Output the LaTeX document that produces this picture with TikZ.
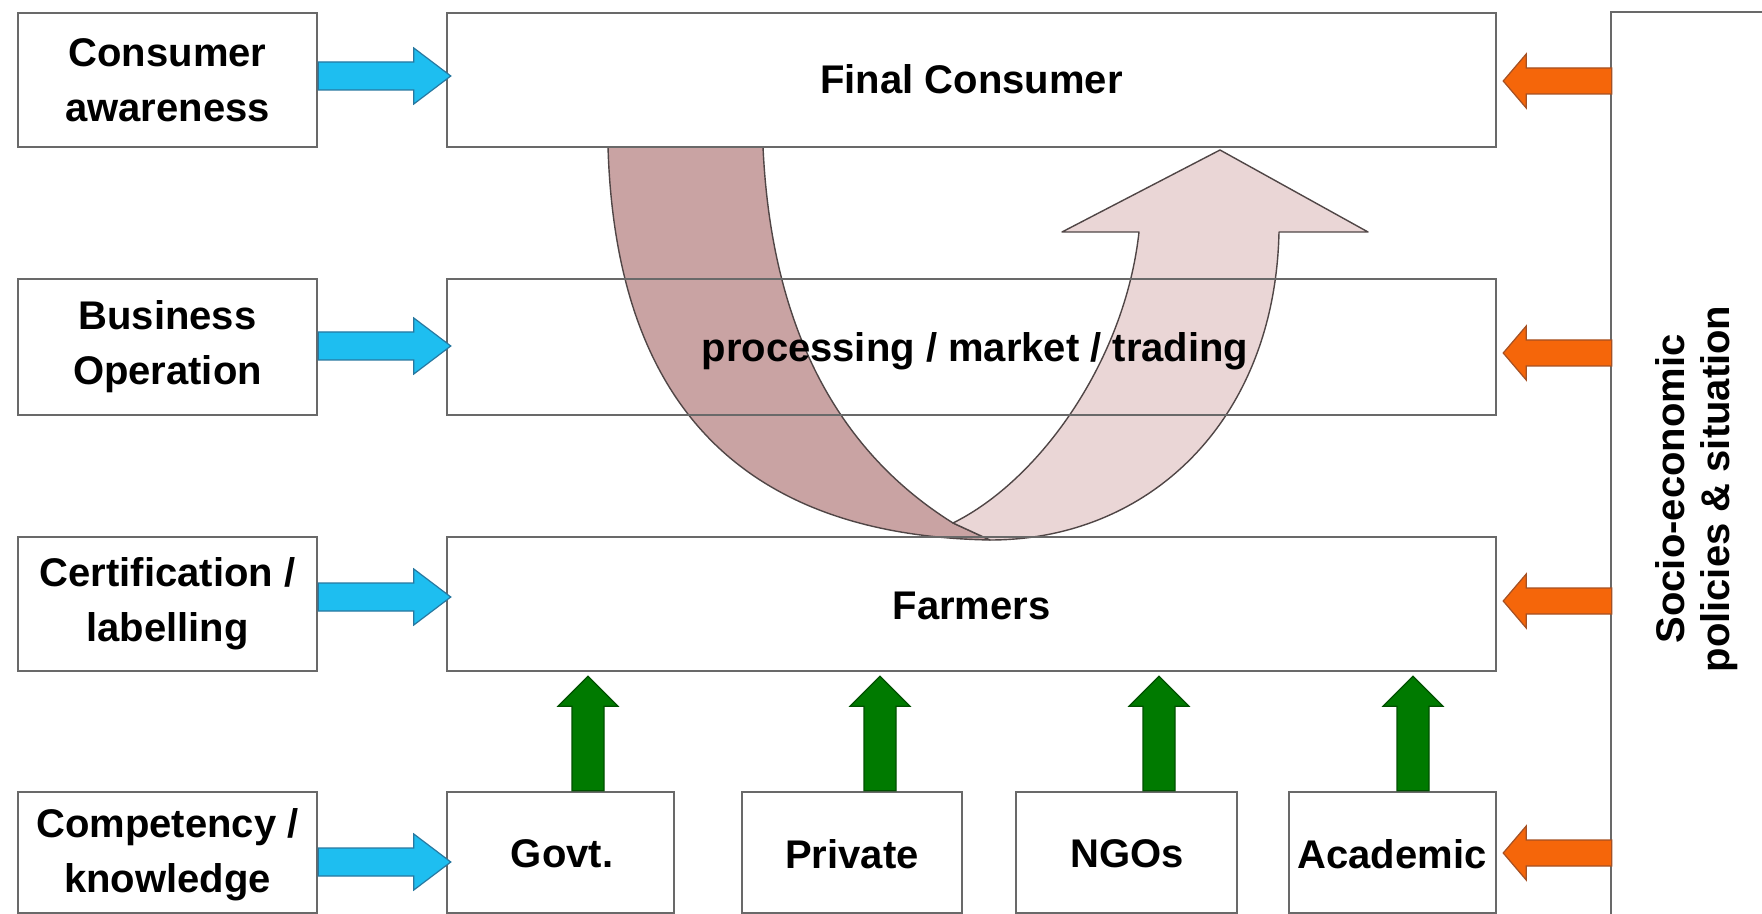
\documentclass[tikz,border=0pt]{standalone}
\usepackage{fontspec}
\setmainfont{Liberation Sans}
\usetikzlibrary{calc}

\definecolor{boxline}{RGB}{105,105,105}
\definecolor{cyanfill}{RGB}{30,190,240}
\definecolor{cyanline}{RGB}{40,120,160}
\definecolor{orangefill}{RGB}{245,102,10}
\definecolor{orangeline}{RGB}{165,80,35}
\definecolor{greenfill}{RGB}{0,122,0}
\definecolor{greenline}{RGB}{0,80,0}
\definecolor{darkband}{RGB}{201,163,163}
\definecolor{lightband}{RGB}{234,214,214}
\definecolor{bandline}{RGB}{80,70,70}

\tikzset{
  box/.style={draw=boxline, line width=1.2pt, inner sep=0pt},
  label/.style={font=\bfseries\fontsize{20}{27.5}\selectfont, align=center, inner sep=0pt},
  sidelabel/.style={font=\bfseries\fontsize{20}{22.5}\selectfont, align=center, inner sep=0pt},
  inarrow/.style={fill=cyanfill, draw=cyanline, line width=0.6pt, line join=miter},
  policyarrow/.style={fill=orangefill, draw=orangeline, line width=0.6pt, line join=miter},
  supportarrow/.style={fill=greenfill, draw=greenline, line width=0.6pt, line join=miter},
  band/.style={draw=bandline, line width=0.7pt, line join=round},
}

% block arrow pointing right: tail anchor, tip anchor, level coordinate
\newcommand\blockR[3]{%
  \draw[inarrow] let \p1=(#1 |- #3), \p2=(#2 |- #3) in
    (\x1,\y1+7pt) -- (\x2-16pt,\y1+7pt) -- (\x2-16pt,\y1+14pt) -- (\x2+2.5pt,\y1)
    -- (\x2-16pt,\y1-14pt) -- (\x2-16pt,\y1-7pt) -- (\x1,\y1-7pt) -- cycle;}
% block arrow pointing left
\newcommand\blockL[3]{%
  \draw[policyarrow] let \p1=(#1 |- #3), \p2=(#2 |- #3) in
    (\x1+1pt,\y1+6.5pt) -- (\x2+14.5pt,\y1+6.5pt) -- (\x2+14.5pt,\y1+13.5pt) -- (\x2+3pt,\y1)
    -- (\x2+14.5pt,\y1-13.5pt) -- (\x2+14.5pt,\y1-6.5pt) -- (\x1+1pt,\y1-6.5pt) -- cycle;}
% block arrow pointing up
\newcommand\blockU[3]{%
  \draw[supportarrow] let \p1=(#3 |- #1), \p2=(#3 |- #2) in
    (\x1-8pt,\y1) -- (\x1-8pt,\y2-17pt) -- (\x1-15pt,\y2-17pt) -- (\x1,\y2-2pt)
    -- (\x1+15pt,\y2-17pt) -- (\x1+8pt,\y2-17pt) -- (\x1+8pt,\y1) -- cycle;}

\begin{document}
\begin{tikzpicture}[x=0.5pt, y=-0.5pt]
\useasboundingbox (0,0) rectangle (1762,914);
\clip (0,0) rectangle (1762,914);
\fill[white] (0,0) rectangle (1762,914);

% the U-shaped flow from the consumer down to the farmers and back up
\draw[band, fill=darkband]
  (608,147) -- (763,147)
  .. controls (770,300) and (820,440) .. (953,523)
  -- (990,540)
  .. controls (720,535) and (615,380) .. (608,147) -- cycle;
\draw[band, fill=lightband]
  (953,523) .. controls (1040,480) and (1125,360) .. (1139,232)
  -- (1062,232) -- (1220,150) -- (1368,232) -- (1279,232)
  .. controls (1275,420) and (1150,540) .. (990,540) -- cycle;

% left column
\node[box, minimum width=149.5pt, minimum height=67pt] (ca) at (167.5,80) {};
\node[label] (catext) at (167.5,80) {Consumer\\awareness};
\node[box, minimum width=149.5pt, minimum height=68pt] (bo) at (167.5,347) {};
\node[label] (botext) at (167.5,347) {Business\\Operation};
\node[box, minimum width=149.5pt, minimum height=67pt] (cl) at (167.5,604) {};
\node[label] (cltext) at (167.5,604) {Certification /\\labelling};
\node[box, minimum width=149.5pt, minimum height=60.5pt] (ck) at (167.5,852.5) {};
\node[label] (cktext) at (167.5,855) {Competency /\\knowledge};

% value chain
\node[box, minimum width=524.5pt, minimum height=67pt] (fc) at (971.5,80) {};
\node[label] (fctext) at (971.5,79) {Final Consumer};
\node[box, minimum width=524.5pt, minimum height=68pt] (pm) at (971.5,347) {};
\node[label] (pmtext) at (975,351) {processing / market / trading};
\node[box, minimum width=524.5pt, minimum height=67pt] (fa) at (971.5,604) {};
\node[label] (fatext) at (971.5,606) {Farmers};

% supporting actors
\node[box, minimum width=113.5pt, minimum height=60.5pt] (govt) at (560.5,852.5) {};
\node[label] at (562,854) {Govt.};
\node[box, minimum width=110pt, minimum height=60.5pt] (priv) at (852,852.5) {};
\node[label] at (852,854) {Private};
\node[box, minimum width=110.5pt, minimum height=60.5pt] (ngo) at (1126.5,852.5) {};
\node[label] at (1127,854) {NGOs};
\node[box, minimum width=103.5pt, minimum height=60.5pt] (acad) at (1392.5,852.5) {};
\node[label] at (1392,854) {Academic};

% policy frame on the right
\node[box, minimum width=94.5pt, minimum height=469pt] (rb) at (1705.5,481) {};
\node[sidelabel, rotate=90] (rbtext) at (1697,489) {Socio-economic\\policies \& situation};

% levels of the horizontal arrows
\coordinate (l1) at (0,76);
\coordinate (l2) at (0,346);
\coordinate (l3) at (0,597);
\coordinate (l4) at (0,862);
\coordinate (r1) at (0,81);
\coordinate (r2) at (0,353);
\coordinate (r3) at (0,601);
\coordinate (r4) at (0,853);

\blockR{ca.east}{fc.west}{l1}
\blockR{bo.east}{pm.west}{l2}
\blockR{cl.east}{fa.west}{l3}
\blockR{ck.east}{govt.west}{l4}

\blockL{rb.west}{fc.east}{r1}
\blockL{rb.west}{pm.east}{r2}
\blockL{rb.west}{fa.east}{r3}
\blockL{rb.west}{acad.east}{r4}

% columns of the upward arrows
\coordinate (g1) at (588,0);
\coordinate (g2) at (880,0);
\coordinate (g3) at (1159,0);
\coordinate (g4) at (1413,0);

\blockU{govt.north}{fa.south}{g1}
\blockU{priv.north}{fa.south}{g2}
\blockU{ngo.north}{fa.south}{g3}
\blockU{acad.north}{fa.south}{g4}
\end{tikzpicture}
\end{document}
